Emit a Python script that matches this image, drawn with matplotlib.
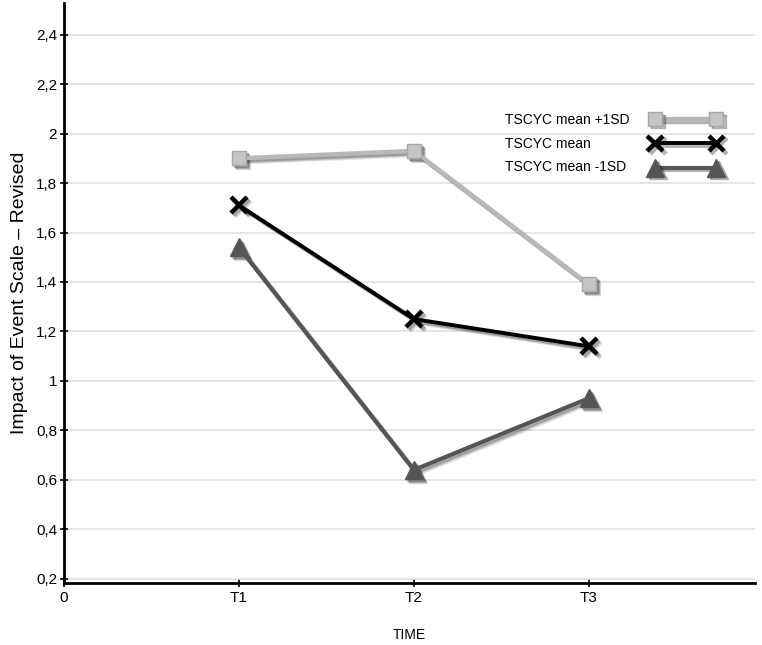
import matplotlib
matplotlib.use("Agg")
import matplotlib.pyplot as plt
import matplotlib.transforms as mtransforms
import matplotlib.patheffects as pe
from matplotlib.lines import Line2D
from matplotlib.ticker import FuncFormatter

# data
times = [1, 2, 3]
time_labels = ["T1", "T2", "T3"]
plus_sd = [1.90, 1.93, 1.39]
mean = [1.71, 1.25, 1.14]
minus_sd = [1.54, 0.64, 0.93]
series_names = ["TSCYC mean +1SD", "TSCYC mean", "TSCYC mean -1SD"]
y_ticks = [0.2, 0.4, 0.6, 0.8, 1.0, 1.2, 1.4, 1.6, 1.8, 2.0, 2.2, 2.4]

plt.rcParams["font.family"] = ["Liberation Sans", "DejaVu Sans"]

fig = plt.figure(figsize=(7.62, 6.45), dpi=100)
ax = fig.add_axes([64 / 762, 62 / 645, 691 / 762, 580 / 645])

styles = [
    dict(color="#b8b8b8", lw=3.2, marker="s", ms=10, mfc="#c4c4c4", mec="#a8a8a8", mew=1),
    dict(color="#000000", lw=2.8, marker="x", ms=11, mew=3.2),
    dict(color="#555555", lw=3.0, marker="^", ms=13, mfc="#555555", mec="#555555", mew=1),
]


def draw_shadow(xs, ys, st):
    # soft drop shadow: a few offset copies with low alpha
    for off, a in [(4, 0.10), (3, 0.15), (2, 0.2)]:
        tr = ax.transData + mtransforms.ScaledTranslation(off / 100, -off / 100, fig.dpi_scale_trans)
        kw = dict(st)
        kw["color"] = "black"
        if "mfc" in kw:
            kw["mfc"] = "black"
            kw["mec"] = "black"
        ax.plot(xs, ys, transform=tr, alpha=a, zorder=2, solid_capstyle="round", **kw)


for ys, st in zip([plus_sd, mean, minus_sd], styles):
    draw_shadow(times, ys, st)
    ax.plot(times, ys, zorder=3, **st)

ax.set_xlim(0, 3.95)
ax.set_ylim(0.183, 2.528)
ax.set_xticks([0] + times)
ax.set_xticklabels(["0"] + time_labels)
ax.set_yticks(y_ticks)
ax.yaxis.set_major_formatter(FuncFormatter(lambda v, p: "{:g}".format(round(v, 1)).replace(".", ",")))
ax.tick_params(axis="both", direction="inout", length=6, width=1.2, labelsize=11, pad=2)
ax.tick_params(axis="x", pad=3)

ax.grid(axis="y", color="#e0e0e0", lw=1.2)
ax.set_axisbelow(True)
for s in ["top", "right"]:
    ax.spines[s].set_visible(False)
for s in ["left", "bottom"]:
    ax.spines[s].set_linewidth(2)

ax.set_ylabel("Impact of Event Scale \u2013 Revised", fontsize=14)
ax.yaxis.set_label_coords(-0.052, 0.5)
ax.set_xlabel("TIME", fontsize=10)
ax.xaxis.set_label_coords(0.5, -0.078)

# legend: handles only, labels written as left-aligned text to their left
shadow = [pe.SimplePatchShadow(offset=(2, -2), alpha=0.3),
          pe.SimpleLineShadow(offset=(2, -2), alpha=0.3), pe.Normal()]
handles = [Line2D([], [], path_effects=shadow, **st) for st in styles]
ax.legend(handles, [""] * 3, loc="center left", bbox_to_anchor=(644 / 762, 1 - 144 / 645),
          bbox_transform=fig.transFigure, frameon=False, numpoints=2,
          handlelength=5.0, handletextpad=0, labelspacing=0.75, fontsize=10, borderpad=0)
for name, yp in zip(series_names, [120, 144, 167]):
    fig.text(505 / 762, 1 - yp / 645, name, fontsize=10, va="center", ha="left")

fig.savefig("out.png", dpi=100)
